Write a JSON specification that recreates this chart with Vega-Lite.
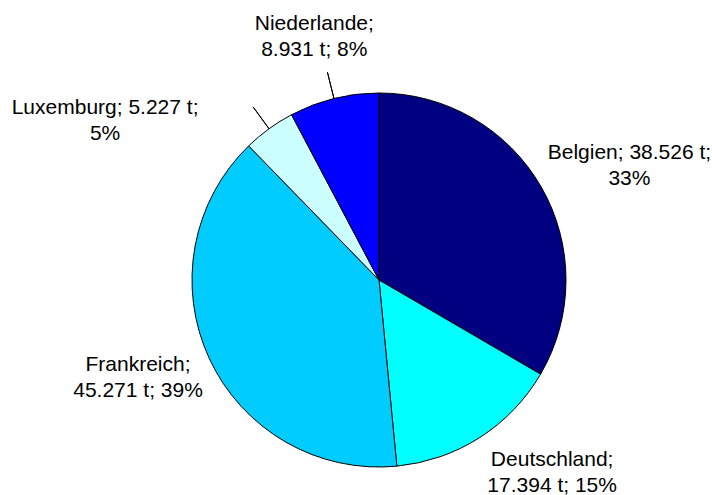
{
  "$schema": "https://vega.github.io/schema/vega-lite/v6.json",
  "autosize": {"type": "none"},
  "width": 666,
  "height": 430,
  "padding": {"left": 46, "top": 65, "right": 0, "bottom": 0},
  "background": "white",
  "config": {"view": {"stroke": null}},
  "data": {
    "values": [
      {"land": "Belgien", "value": 38.526, "label": "Belgien; 38.526 t;\n33%"},
      {"land": "Deutschland", "value": 17.394, "label": "Deutschland;\n17.394 t; 15%"},
      {"land": "Frankreich", "value": 45.271, "label": "Frankreich;\n45.271 t; 39%"},
      {"land": "Luxemburg", "value": 5.227, "label": "Luxemburg; 5.227 t;\n5%"},
      {"land": "Niederlande", "value": 8.931, "label": "Niederlande;\n8.931 t; 8%"}
    ]
  },
  "transform": [
    {"stack": "value", "groupby": [], "sort": [{"field": "land", "order": "ascending"}], "as": ["s", "e"]},
    {"calculate": "(datum.s + datum.e) / 2", "as": "mid"}
  ],
  "layer": [
    {
      "mark": {"type": "arc", "outerRadius": 187, "stroke": "black", "strokeWidth": 1},
      "encoding": {
        "theta": {"field": "s", "type": "quantitative", "scale": {"domain": [0, 115.349], "nice": false, "zero": true}},
        "theta2": {"field": "e"},
        "color": {
          "field": "land", "type": "nominal", "legend": null,
          "scale": {
            "domain": ["Belgien", "Deutschland", "Frankreich", "Luxemburg", "Niederlande"],
            "range": ["#000080", "#00FFFF", "#00CCFF", "#CCFFFF", "#0000FF"]
          }
        }
      }
    },
    {
      "transform": [{"filter": "datum.land === 'Niederlande' || datum.land === 'Luxemburg'"}],
      "mark": {"type": "arc", "innerRadius": 187, "outerRadius": 214, "stroke": "black", "strokeWidth": 1, "fill": null},
      "encoding": {
        "theta": {"field": "mid", "type": "quantitative"},
        "theta2": {"field": "mid"}
      }
    },
    {
      "transform": [{"filter": "datum.land === 'Belgien'"}],
      "mark": {"type": "text", "radius": 260, "dx": 25, "dy": 3, "font": "Liberation Sans", "fontSize": 21, "lineBreak": "\n", "lineHeight": 26, "align": "center", "baseline": "middle", "color": "black"},
      "encoding": {"theta": {"field": "mid", "type": "quantitative"}, "text": {"field": "label"}}
    },
    {
      "transform": [{"filter": "datum.land === 'Deutschland'"}],
      "mark": {"type": "text", "radius": 260, "dx": 33, "dy": -39, "font": "Liberation Sans", "fontSize": 21, "lineBreak": "\n", "lineHeight": 26, "align": "center", "baseline": "middle", "color": "black"},
      "encoding": {"theta": {"field": "mid", "type": "quantitative"}, "text": {"field": "label"}}
    },
    {
      "transform": [{"filter": "datum.land === 'Frankreich'"}],
      "mark": {"type": "text", "radius": 260, "dx": -5, "dy": -24, "font": "Liberation Sans", "fontSize": 21, "lineBreak": "\n", "lineHeight": 26, "align": "center", "baseline": "middle", "color": "black"},
      "encoding": {"theta": {"field": "mid", "type": "quantitative"}, "text": {"field": "label"}}
    },
    {
      "transform": [{"filter": "datum.land === 'Luxemburg'"}],
      "mark": {"type": "text", "radius": 260, "dx": -121, "dy": 38, "font": "Liberation Sans", "fontSize": 21, "lineBreak": "\n", "lineHeight": 26, "align": "center", "baseline": "middle", "color": "black"},
      "encoding": {"theta": {"field": "mid", "type": "quantitative"}, "text": {"field": "label"}}
    },
    {
      "transform": [{"filter": "datum.land === 'Niederlande'"}],
      "mark": {"type": "text", "radius": 252, "dx": -4, "dy": -11, "font": "Liberation Sans", "fontSize": 21, "lineBreak": "\n", "lineHeight": 26, "align": "center", "baseline": "middle", "color": "black"},
      "encoding": {"theta": {"field": "mid", "type": "quantitative"}, "text": {"field": "label"}}
    }
  ]
}
